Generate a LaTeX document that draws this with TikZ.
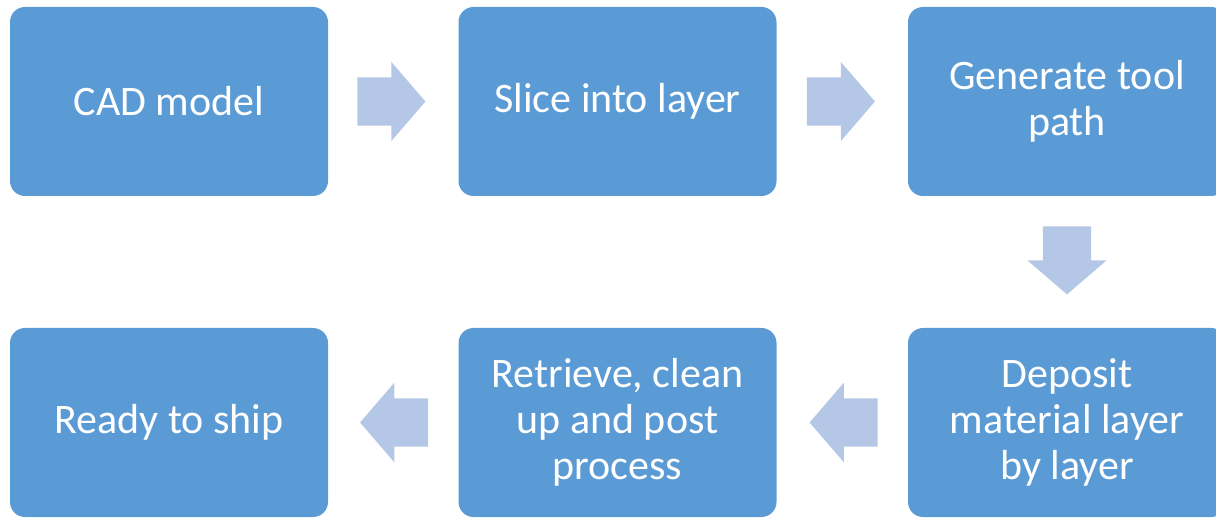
\documentclass[tikz,border=0pt]{standalone}
\usepackage{fontspec}
\setmainfont{Carlito}
\usetikzlibrary{shapes.arrows}
\definecolor{boxblue}{HTML}{5B9BD5}
\definecolor{arrowblue}{HTML}{B4C7E7}
\tikzset{
    stepbox/.style={
        fill=boxblue, rounded corners=15pt, minimum width=318pt,
        minimum height=189pt, text=white, align=center,
        font=\fontsize{42}{46}\selectfont
    },
    flowarrow/.style={
        single arrow, fill=arrowblue, inner xsep=0pt, inner ysep=24pt,
        single arrow head extend=15.5pt, single arrow tip angle=98.6,
        minimum height=68pt, anchor=tail
    }
}

\begin{document}
\begin{tikzpicture}[x=1pt,y=-1pt]
    \clip (0,0) rectangle (1216,518);
    \useasboundingbox (0,0) rectangle (1216,518);

    \node[stepbox] (CAD) at (169,101.5) {CAD model};
    \node[stepbox] (SLICE) at (617.5,101.5) {Slice into layer};
    \node[stepbox] (PATH) at (1067,101.5) {Generate tool\\path};

    \node[stepbox] (DEPOSIT) at (1067,422.5) {Deposit\\material layer\\by layer};
    \node[stepbox] (POST) at (617.5,422.5) {Retrieve, clean\\up and post\\process};
    \node[stepbox] (SHIP) at (169,422.5) {Ready to ship};

    % block arrows between the steps
    \node[flowarrow] (A1) at ([xshift=29pt]CAD.east) {};
    \node[flowarrow] (A2) at ([xshift=30pt]SLICE.east) {};
    \node[flowarrow, rotate=-90] (A3) at ([yshift=-30pt]PATH.south) {};
    \node[flowarrow, rotate=180] (A4) at ([xshift=-30pt]DEPOSIT.west) {};
    \node[flowarrow, rotate=180] (A5) at ([xshift=-30pt]POST.west) {};
\end{tikzpicture}
\end{document}
